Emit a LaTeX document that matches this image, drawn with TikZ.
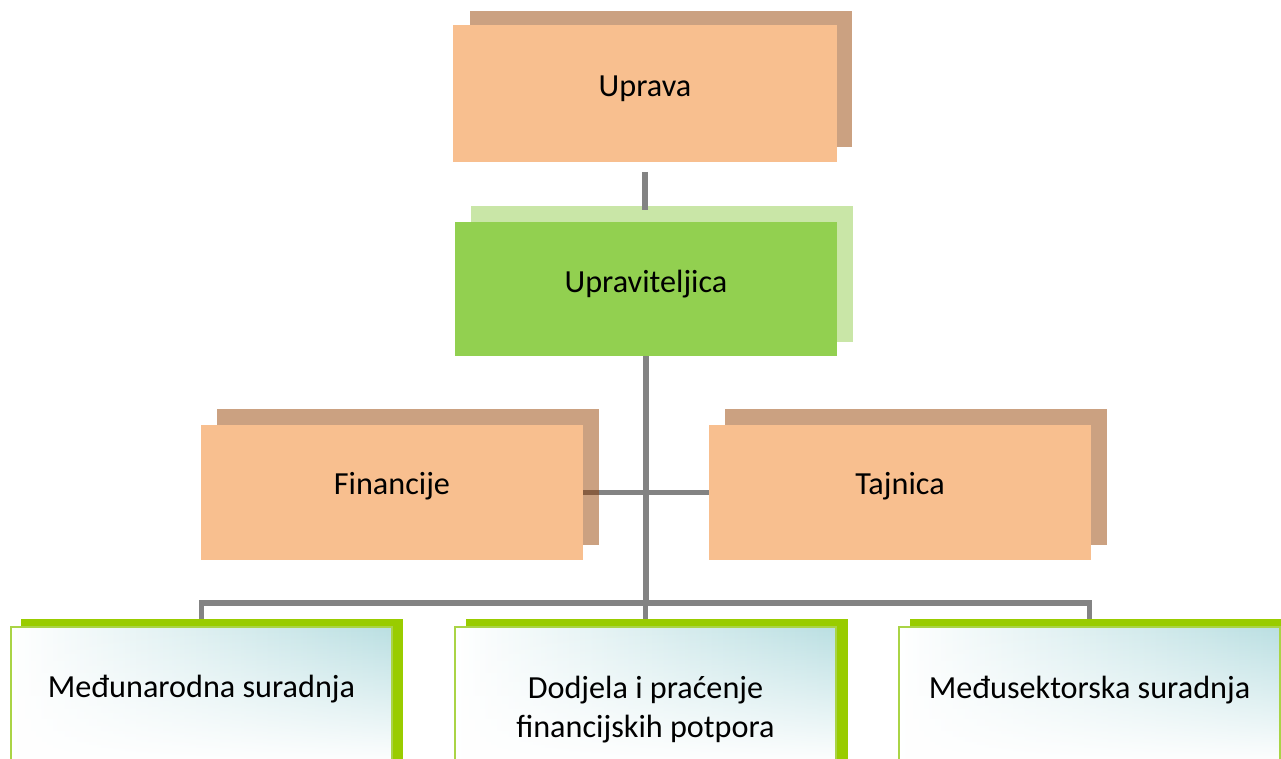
\documentclass[tikz,border=0pt]{standalone}
\usepackage{fontspec}
\setmainfont{Carlito}
\usetikzlibrary{fadings}
\definecolor{orfront}{RGB}{248,191,143}
\definecolor{orback}{RGB}{203,161,129}
\definecolor{grfront}{RGB}{146,208,80}
\definecolor{grback}{RGB}{201,230,167}
\definecolor{conncol}{RGB}{131,131,131}
\definecolor{barcol}{RGB}{153,204,0}
\definecolor{bordcol}{RGB}{170,212,70}
\definecolor{tealcol}{RGB}{186,223,226}
\definecolor{overlapcol}{RGB}{135,94,66}
\tikzfading[name=botfade, top color=transparent!100, middle color=transparent!88, bottom color=transparent!0]
\begin{document}
\begin{tikzpicture}[x=1pt,y=-1pt,
  rbox/.style={rectangle, inner sep=0pt, outer sep=0pt, anchor=north west, draw=none},
  wide/.style={minimum width=382pt, minimum height=136pt},
  botfront/.style={rbox, minimum width=381pt, minimum height=137pt,
    path picture={
      \shade[left color=white, right color=tealcol]
        (path picture bounding box.north west) rectangle (path picture bounding box.south east);
      \fill[white, path fading=botfade]
        (path picture bounding box.north west) rectangle (path picture bounding box.south east);
    }},
  botback/.style={rbox, fill=barcol, minimum width=382pt, minimum height=145pt},
  lbl/.style={anchor=base, inner sep=0pt, font=\fontsize{32.2}{39}\selectfont, text=black, align=center},
  conn/.style={draw=conncol, line width=5.5pt, line cap=butt, line join=miter}]
\useasboundingbox (0,0) rectangle (1281,759);
\clip (0,0) rectangle (1281,759);

% back boxes
\node[rbox, wide, fill=orback] (uprB) at (470,11) {};
\node[rbox, wide, fill=grback] (uviB) at (471,206) {};
\node[rbox, wide, fill=orback] (finB) at (217,409) {};
\node[rbox, wide, fill=orback] (tajB) at (725,409) {};

% front boxes (upper)
\node[rbox, minimum width=384pt, minimum height=137pt, fill=orfront] (upr) at (453,25) {};
\node[rbox, minimum width=382pt, minimum height=134pt, fill=grfront] (uvi) at (455,222) {};
\node[rbox, minimum width=382pt, minimum height=135pt, fill=orfront] (fin) at (201,425) {};
\node[rbox, minimum width=382pt, minimum height=135pt, fill=orfront] (taj) at (709,425) {};

% connectors
\coordinate (bus) at (646,603);
\draw[conn] ([yshift=-10pt]upr.south) -- ([yshift=-4pt]upr.south |- uviB.north);
\draw[conn] (uvi.south) -- (uvi.south |- bus);
\draw[conn] (fin.east) -- (taj.west);
\fill[overlapcol] ([yshift=2.75pt]fin.east) rectangle ([yshift=-2.75pt]fin.east -| finB.east);

% bottom boxes
\node[rbox, minimum width=381pt, minimum height=137pt] (mn) at (11,627) {};
\node[rbox, minimum width=381pt, minimum height=137pt] (dj) at (455,627) {};
\node[rbox, minimum width=381pt, minimum height=137pt] (ms) at (899,627) {};
\draw[conn] (mn.north) -- (mn.north |- bus) -- (ms.north |- bus) -- (ms.north);
\draw[conn] (dj.north |- bus) -- (dj.north);

\node[botback] (mnB) at (21,619) {};
\node[botback] (djB) at (466,619) {};
\node[botback] (msB) at (910,619) {};
\node[botfront, draw=bordcol, line width=1.5pt] (mnF) at (11,627) {};
\node[botfront, draw=bordcol, line width=1.5pt] (djF) at (455,627) {};
\node[botfront, draw=bordcol, line width=1.5pt] (msF) at (899,627) {};

% labels
\node[lbl] (uprT) at ([yshift=-72pt]upr.north) {Uprava};
\node[lbl] (uviT) at ([yshift=-70pt]uvi.north) {Upraviteljica};
\node[lbl] (finT) at ([yshift=-69pt]fin.north) {Financije};
\node[lbl] (tajT) at ([yshift=-69pt]taj.north) {Tajnica};
\node[lbl] (mnT) at ([yshift=-70pt]mnF.north) {Međunarodna suradnja};
\node[lbl] (djT) at ([yshift=-110pt]djF.north) {Dodjela i praćenje\\financijskih potpora};
\node[lbl] (msT) at ([yshift=-71pt]msF.north) {Međusektorska suradnja};
\end{tikzpicture}
\end{document}
